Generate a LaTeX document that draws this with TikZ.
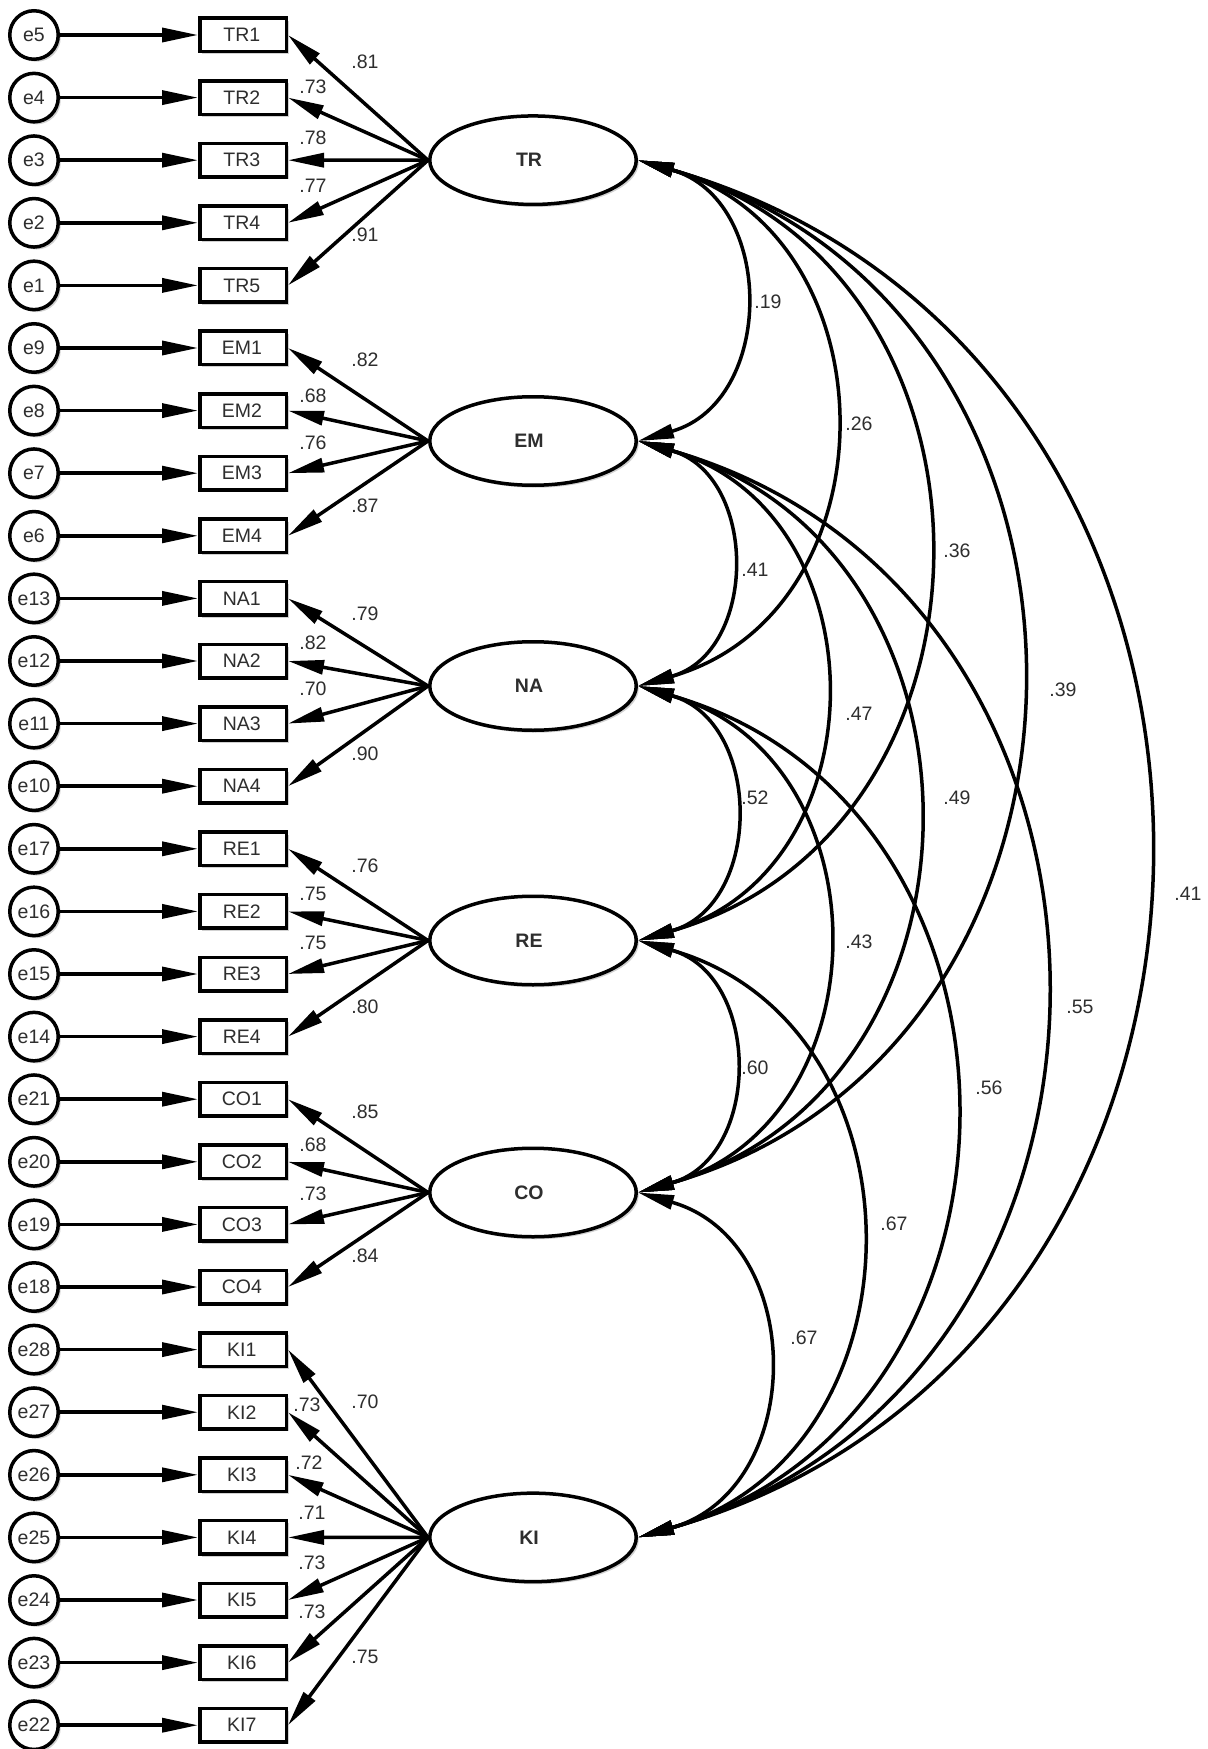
\documentclass[tikz,border=0pt]{standalone}
\usepackage{fontspec}
\setmainfont{Liberation Sans}
\usetikzlibrary{shapes.geometric,arrows.meta,shadows}
\newcommand\myfs{\fontsize{9.75pt}{11.5pt}\selectfont}
\begin{document}
\begin{tikzpicture}[x=0.5pt,y=0.5pt,
  shd/.style={drop shadow={shadow xshift=1.25pt,shadow yshift=-1.25pt,fill=black!30,opacity=0.6}},
  lat/.style={ellipse, draw, line width=1.75pt, minimum width=103.25pt, minimum height=44.25pt,
    fill=white, font=\myfs\bfseries, text=black!82, shd},
  obs/.style={rectangle, draw, line width=1.75pt, minimum width=43.25pt, minimum height=16.75pt,
    inner sep=0pt, fill=white, font=\myfs, text=black!82, shd},
  err/.style={circle, draw, line width=1.75pt, minimum size=24.25pt, inner sep=0pt,
    fill=white, font=\myfs, text=black!82, shd},
  reg/.style={line width=1.75pt, -{Triangle[length=18pt,width=7pt]}},
  cov/.style={line width=1.75pt, {Triangle[length=18pt,width=7pt]}-{Triangle[length=18pt,width=7pt]},
    bend left=74, looseness=1.31},
  lbl/.style={font=\myfs, text=black!82, inner sep=0pt}
]
\useasboundingbox (0,0) rectangle (1207,-1749);

% indicators and errors
\foreach \n/\e [count=\i from 0] in {TR1/e5,TR2/e4,TR3/e3,TR4/e2,TR5/e1,
  EM1/e9,EM2/e8,EM3/e7,EM4/e6,NA1/e13,NA2/e12,NA3/e11,NA4/e10,
  RE1/e17,RE2/e16,RE3/e15,RE4/e14,CO1/e21,CO2/e20,CO3/e19,CO4/e18,
  KI1/e28,KI2/e27,KI3/e26,KI4/e25,KI5/e24,KI6/e23,KI7/e22} {
  \node[obs] (\n) at (243,{-(35+62.6*\i)}) {\kern-0.6pt\n\kern0.6pt};
  \node[err] (\e) at (34,{-(35+62.6*\i)}) {\e};
  \draw[reg] (\e.east) -- (\n.west);
}

% latent variables
\node[lat] (TR) at (533,-160.2) {\kern-2pt TR\kern2pt};
\node[lat] (EM) at (533,-441) {\kern-2pt EM\kern2pt};
\node[lat] (NA) at (533,-686) {\kern-2pt NA\kern2pt};
\node[lat] (RE) at (533,-940.5) {\kern-2pt RE\kern2pt};
\node[lat] (CO) at (533,-1192.5) {\kern-2pt CO\kern2pt};
\node[lat] (KI) at (533,-1537.4) {\kern-2pt KI\kern2pt};

% loadings
\foreach \n in {TR1,TR2,TR3,TR4,TR5} \draw[reg] (TR.west) -- (\n.east);
\foreach \n in {EM1,EM2,EM3,EM4} \draw[reg] (EM.west) -- (\n.east);
\foreach \n in {NA1,NA2,NA3,NA4} \draw[reg] (NA.west) -- (\n.east);
\foreach \n in {RE1,RE2,RE3,RE4} \draw[reg] (RE.west) -- (\n.east);
\foreach \n in {CO1,CO2,CO3,CO4} \draw[reg] (CO.west) -- (\n.east);
\foreach \n in {KI1,KI2,KI3,KI4,KI5,KI6,KI7} \draw[reg] (KI.west) -- (\n.east);

% loading labels
\node[lbl] (lTR1) at (365,-62) {.81};
\node[lbl] (lTR2) at (313,-87) {.73};
\node[lbl] (lTR3) at (313,-138) {.78};
\node[lbl] (lTR4) at (313,-185.5) {.77};
\node[lbl] (lTR5) at (365,-235) {.91};
\node[lbl] (lEM1) at (365,-360) {.82};
\node[lbl] (lEM2) at (313,-396) {.68};
\node[lbl] (lEM3) at (313,-443) {.76};
\node[lbl] (lEM4) at (365,-506) {.87};
\node[lbl] (lNA1) at (365,-614) {.79};
\node[lbl] (lNA2) at (313,-643) {.82};
\node[lbl] (lNA3) at (313,-689) {.70};
\node[lbl] (lNA4) at (365,-754) {.90};
\node[lbl] (lRE1) at (365,-866) {.76};
\node[lbl] (lRE2) at (313,-894) {.75};
\node[lbl] (lRE3) at (313,-943) {.75};
\node[lbl] (lRE4) at (365,-1007) {.80};
\node[lbl] (lCO1) at (365,-1112) {.85};
\node[lbl] (lCO2) at (313,-1145) {.68};
\node[lbl] (lCO3) at (313,-1194) {.73};
\node[lbl] (lCO4) at (365,-1256) {.84};
\node[lbl] (lKI1) at (365,-1402) {.70};
\node[lbl] (lKI2) at (307,-1405) {.73};
\node[lbl] (lKI3) at (309,-1463) {.72};
\node[lbl] (lKI4) at (312,-1513) {.71};
\node[lbl] (lKI5) at (312,-1563) {.73};
\node[lbl] (lKI6) at (312,-1612) {.73};
\node[lbl] (lKI7) at (365,-1657) {.75};

% covariances
\draw[cov] (TR.east) to (EM.east);
\draw[cov] (TR.east) to (NA.east);
\draw[cov] (TR.east) to (RE.east);
\draw[cov] (TR.east) to (CO.east);
\draw[cov] (TR.east) to (KI.east);
\draw[cov] (EM.east) to (NA.east);
\draw[cov] (EM.east) to (RE.east);
\draw[cov] (EM.east) to (CO.east);
\draw[cov] (EM.east) to (KI.east);
\draw[cov] (NA.east) to (RE.east);
\draw[cov] (NA.east) to (CO.east);
\draw[cov] (NA.east) to (KI.east);
\draw[cov] (RE.east) to (CO.east);
\draw[cov] (RE.east) to (KI.east);
\draw[cov] (CO.east) to (KI.east);

% covariance labels
\node[lbl] (cTREM) at (768,-302) {.19};
\node[lbl] (cTRNA) at (859,-424) {.26};
\node[lbl] (cTRRE) at (957,-551) {.36};
\node[lbl] (cTRCO) at (1063,-690) {.39};
\node[lbl] (cTRKI) at (1188,-894) {.41};
\node[lbl] (cEMNA) at (755,-570) {.41};
\node[lbl] (cEMRE) at (859,-714) {.47};
\node[lbl] (cEMCO) at (957,-798) {.49};
\node[lbl] (cEMKI) at (1080,-1007) {.55};
\node[lbl] (cNARE) at (755,-798) {.52};
\node[lbl] (cNACO) at (859,-942) {.43};
\node[lbl] (cNAKI) at (989,-1088) {.56};
\node[lbl] (cRECO) at (755,-1068) {.60};
\node[lbl] (cREKI) at (894,-1224) {.67};
\node[lbl] (cCOKI) at (804,-1338) {.67};
\end{tikzpicture}
\end{document}
